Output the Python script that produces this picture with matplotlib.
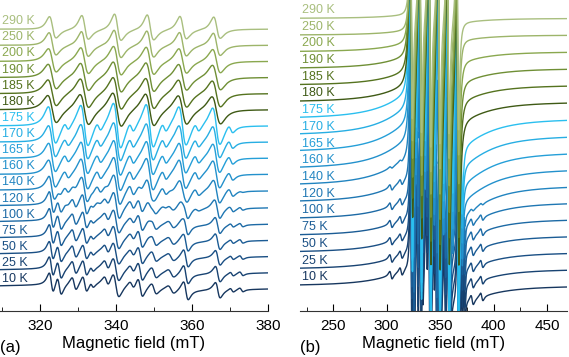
import numpy as np
import matplotlib
matplotlib.use("Agg")
from matplotlib import pyplot as plt
from matplotlib.ticker import MultipleLocator

plt.rcParams['font.family'] = ['Liberation Sans', 'DejaVu Sans']

# temperatures, bottom trace first
temps = [10, 25, 50, 75, 100, 120, 140, 160, 165, 170, 175, 180, 185, 190, 200, 250, 290]
colors = ["#17375f", "#184372", "#1a4f84", "#1b5c95", "#1d6aa5", "#1f77b3", "#2184c0",
          "#2391cc", "#259fd8", "#27aee3", "#2bbfef",
          "#3f5a15", "#55731f", "#6f8f35", "#8aa84f", "#9db56a", "#a9bf7f"]

# Mn2+ hyperfine sextet (centres in mT) and relative heights
sextet_pos = [323.2, 331.7, 340.3, 348.9, 357.5, 366.4]
sextet_wt = [0.85, 0.95, 1.05, 1.0, 0.9, 0.85]

# per temperature line parameters
sextet_amp = [0.0, 0.0, 0.0, 0.05, 0.1, 0.3, 0.7, 1.0, 1.05, 1.15, 1.35, 1.0, 0.95, 0.9, 0.85, 0.8, 0.75]
sextet_width = [1.0, 1.0, 1.0, 1.0, 1.1, 1.3, 1.5, 1.6, 1.6, 1.65, 1.7, 2.0, 1.95, 1.9, 1.8, 1.6, 1.5]
shoulder_amp = [0, 0, 0, 0, 0, 0.1, 0.25, 0.3, 0.3, 0.3, 0.3, 0, 0, 0, 0, 0, 0]
disp_mix = [0, 0, 0, 0, 0, 0, 0, 0, 0, 0, 0, 0.0, 0.05, 0.1, 0.15, 0.3, 0.45]
lowT_amp = [1.0, 1.0, 0.95, 0.95, 0.9, 0.75, 0.3, 0, 0, 0, 0, 0, 0, 0, 0, 0, 0]
broad_amp = [1.0, 1.0, 1.05, 1.1, 1.2, 1.4, 1.7, 1.8, 1.8, 1.7, 1.5, 1.0, 0.8, 0.7, 0.5, 0.25, 0.2]

# low temperature powder pattern lines (position mT, height, width mT)
lowT_pos = [323.0, 325.1, 329.0, 331.8, 333.7, 337.5, 340.0, 344.2, 346.4, 350.0, 354.5, 358.4, 366.8, 370.5, 373.0]
lowT_h = [0.8, 0.7, 0.5, 0.6, 0.2, 0.4, 0.9, 0.3, 0.7, 0.4, 0.3, 0.7, 0.6, 0.15, 0.15]
lowT_w = [1.0, 1.0, 1.0, 1.0, 0.8, 1.1, 1.4, 1.1, 1.1, 1.2, 1.4, 1.1, 1.1, 0.8, 0.8]

# weak outer lines of the low temperature spectra in the wide scan
wing_pos = [304.0, 313.5, 380.0, 389.0]
wing_h = [0.25, 0.25, 0.3, 0.25]


def dlor(B, B0, w):
    x = (B - B0) / w
    return -2 * x / (1 + x ** 2) ** 2 / 0.6495


def ddisp(B, B0, w):
    x = (B - B0) / w
    return (1 - x ** 2) / (1 + x ** 2) ** 2


def spectrum(B, i, gain, wide):
    y = np.zeros_like(B)
    for p, wt in zip(sextet_pos, sextet_wt):
        y += gain * sextet_amp[i] * wt * dlor(B, p, sextet_width[i])
        if not wide:
            y += sextet_amp[i] * wt * disp_mix[i] * ddisp(B, p, sextet_width[i])
        y += gain * shoulder_amp[i] * wt * dlor(B, p + 3.8, 1.1)
    for p, h, w in zip(lowT_pos, lowT_h, lowT_w):
        y += gain * lowT_amp[i] * 0.8 * h * dlor(B, p, w)
    if wide:
        y += broad_amp[i] * dlor(B, 347.0, 36.0)
        for p, h in zip(wing_pos, wing_h):
            y += lowT_amp[i] * h * dlor(B, p, 2.0)
    else:
        y += 0.2 * lowT_amp[i] * dlor(B, 347.0, 25.0)
    return y


fig = plt.figure(figsize=(5.69, 3.57), dpi=100)
ax1 = fig.add_axes([0.0, 0.129, 0.471, 0.871])
ax2 = fig.add_axes([0.527, 0.129, 0.4695, 0.871])

B1 = np.linspace(309.5, 380, 3000)
B2 = np.linspace(218.75, 468.75, 6000)

for i, T in enumerate(temps):
    ax1.plot(B1, i + spectrum(B1, i, 1.0, False), color=colors[i], lw=1.0)
    ax2.plot(B2, i + spectrum(B2, i, 10.0, True), color=colors[i], lw=1.0)
    ax1.text(310.0, i + 0.12, "%d K" % T, color=colors[i], fontsize=9, va='bottom', ha='left')
    ax2.text(221.0, i + 0.15, "%d K" % T, color=colors[i], fontsize=9, va='bottom', ha='left')

for ax, lim, ylim, maj, mnr, lab in [(ax1, (309.5, 380), (-1.47, 17.8), 20, 10, "(a)"),
                                     (ax2, (218.75, 468.75), (-1.5, 17.1), 50, 25, "(b)")]:
    ax.set_xlim(*lim)
    ax.set_ylim(*ylim)
    for s in ["top", "left", "right"]:
        ax.spines[s].set_visible(False)
    ax.spines["bottom"].set_color("#333333")
    ax.set_yticks([])
    ax.xaxis.set_major_locator(MultipleLocator(maj))
    ax.xaxis.set_minor_locator(MultipleLocator(mnr))
    ax.tick_params(axis='x', which='major', direction='in', length=5, labelsize=11, pad=6)
    ax.tick_params(axis='x', which='minor', direction='in', length=3)
    ax.set_xlabel("Magnetic field (mT)", fontsize=12, labelpad=2)
    ax.text(0.0, -0.095, lab, transform=ax.transAxes, fontsize=12, va='top', ha='left')

fig.savefig("out.png", dpi=100)
